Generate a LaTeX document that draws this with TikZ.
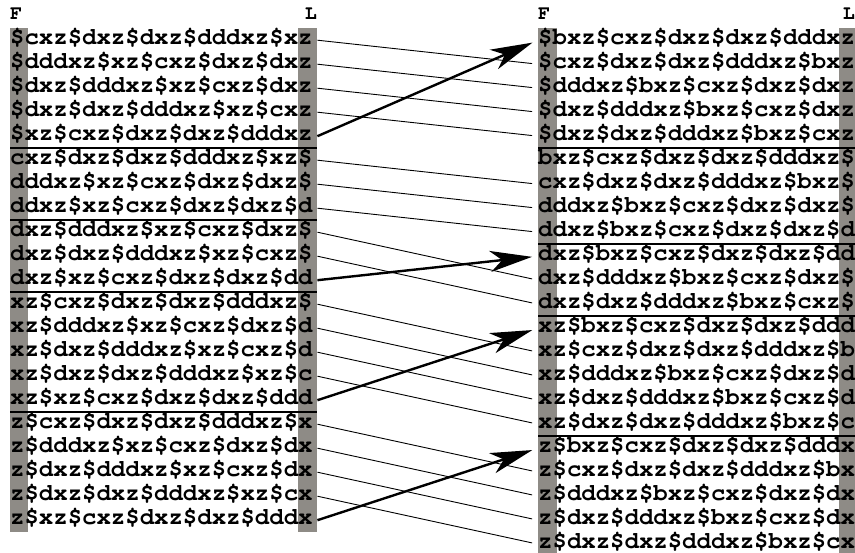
\documentclass[tikz,border=0pt]{standalone}
\usepackage[T1]{fontenc}
\renewcommand{\ttdefault}{pcr}
\usetikzlibrary{arrows.meta, positioning}

\definecolor{colgray}{RGB}{142,139,134}

\begin{document}
\begin{tikzpicture}[
        x=1pt, y=-1pt,
        every node/.style={font=\ttfamily\bfseries\fontsize{24}{24}\selectfont},
        lrow/.style={anchor=north west, inner sep=0pt, text width=307pt,
                     align=left, text height=16pt, text depth=8pt},
        rrow/.style={lrow, text width=321pt},
        hdr/.style={inner sep=0pt, font=\ttfamily\bfseries\fontsize{20}{20}\selectfont},
        sep/.style={line width=2pt},
        link/.style={line width=0.9pt, shorten >=6pt},
        bigarr/.style={-{Stealth[length=42pt, width=21pt, inset=12pt]},
                       line width=2.4pt, shorten >=6pt}
    ]
        \useasboundingbox (0,0) rectangle (855,553);
        % shaded first and last columns
        \fill[colgray] (10,28) rectangle (28,532);
        \fill[colgray] (298,28) rectangle (317,532);
        \fill[colgray] (538,28) rectangle (557,556);
        \fill[colgray] (839,28) rectangle (859,556);
        % column heads
        \node[hdr, anchor=base west] (fl) at (10,20) {F};
        \node[hdr, anchor=base east] (ll) at (317,20) {L};
        \node[hdr, anchor=base west] (fr) at (538,20) {F};
        \node[hdr, anchor=base east] (lr) at (855,20) {L};
        % rotations before sorting
        \foreach \t [count=\i] in {\$cxz\$dxz\$dxz\$dddxz\$xz, \$dddxz\$xz\$cxz\$dxz\$dxz,
                \$dxz\$dddxz\$xz\$cxz\$dxz, \$dxz\$dxz\$dddxz\$xz\$cxz, \$xz\$cxz\$dxz\$dxz\$dddxz,
                cxz\$dxz\$dxz\$dddxz\$xz\$, dddxz\$xz\$cxz\$dxz\$dxz\$, ddxz\$xz\$cxz\$dxz\$dxz\$d,
                dxz\$dddxz\$xz\$cxz\$dxz\$, dxz\$dxz\$dddxz\$xz\$cxz\$, dxz\$xz\$cxz\$dxz\$dxz\$dd,
                xz\$cxz\$dxz\$dxz\$dddxz\$, xz\$dddxz\$xz\$cxz\$dxz\$d, xz\$dxz\$dddxz\$xz\$cxz\$d,
                xz\$dxz\$dxz\$dddxz\$xz\$c, xz\$xz\$cxz\$dxz\$dxz\$ddd,
                z\$cxz\$dxz\$dxz\$dddxz\$x, z\$dddxz\$xz\$cxz\$dxz\$dx, z\$dxz\$dddxz\$xz\$cxz\$dx,
                z\$dxz\$dxz\$dddxz\$xz\$cx, z\$xz\$cxz\$dxz\$dxz\$dddx}
            \node[lrow] (l\i) at (10,{28+24*(\i-1)}) {\t};
        % rotations after sorting
        \foreach \t [count=\i] in {\$bxz\$cxz\$dxz\$dxz\$dddxz, \$cxz\$dxz\$dxz\$dddxz\$bxz,
                \$dddxz\$bxz\$cxz\$dxz\$dxz, \$dxz\$dddxz\$bxz\$cxz\$dxz, \$dxz\$dxz\$dddxz\$bxz\$cxz,
                bxz\$cxz\$dxz\$dxz\$dddxz\$, cxz\$dxz\$dxz\$dddxz\$bxz\$, dddxz\$bxz\$cxz\$dxz\$dxz\$,
                ddxz\$bxz\$cxz\$dxz\$dxz\$d, dxz\$bxz\$cxz\$dxz\$dxz\$dd, dxz\$dddxz\$bxz\$cxz\$dxz\$,
                dxz\$dxz\$dddxz\$bxz\$cxz\$, xz\$bxz\$cxz\$dxz\$dxz\$ddd, xz\$cxz\$dxz\$dxz\$dddxz\$b,
                xz\$dddxz\$bxz\$cxz\$dxz\$d, xz\$dxz\$dddxz\$bxz\$cxz\$d, xz\$dxz\$dxz\$dddxz\$bxz\$c,
                z\$bxz\$cxz\$dxz\$dxz\$dddx, z\$cxz\$dxz\$dxz\$dddxz\$bx, z\$dddxz\$bxz\$cxz\$dxz\$dx,
                z\$dxz\$dddxz\$bxz\$cxz\$dx, z\$dxz\$dxz\$dddxz\$bxz\$cx}
            \node[rrow] (r\i) at (538,{28+24*(\i-1)}) {\t};
        % group rules
        \foreach \i in {5,8,11,16}
            \draw[sep] (l\i.south west) -- (l\i.south east);
        \foreach \i in {5,9,12,17}
            \draw[sep] (r\i.south west) -- (r\i.south east);
        % rows that keep their order
        \foreach \a/\b in {1/2, 2/3, 3/4, 4/5, 6/7, 7/8, 8/9, 9/11, 10/12,
                12/14, 13/15, 14/16, 15/17, 17/19, 18/20, 19/21, 20/22}
            \draw[link] (l\a.east) -- (r\b.west);
        % rows that move up
        \draw[bigarr] (l5.east) -- (r1.west);
        \draw[bigarr] (l11.east) -- (r10.west);
        \draw[bigarr] (l16.east) -- (r13.west);
        \draw[bigarr] (l21.east) -- (r18.west);
\end{tikzpicture}
\end{document}
